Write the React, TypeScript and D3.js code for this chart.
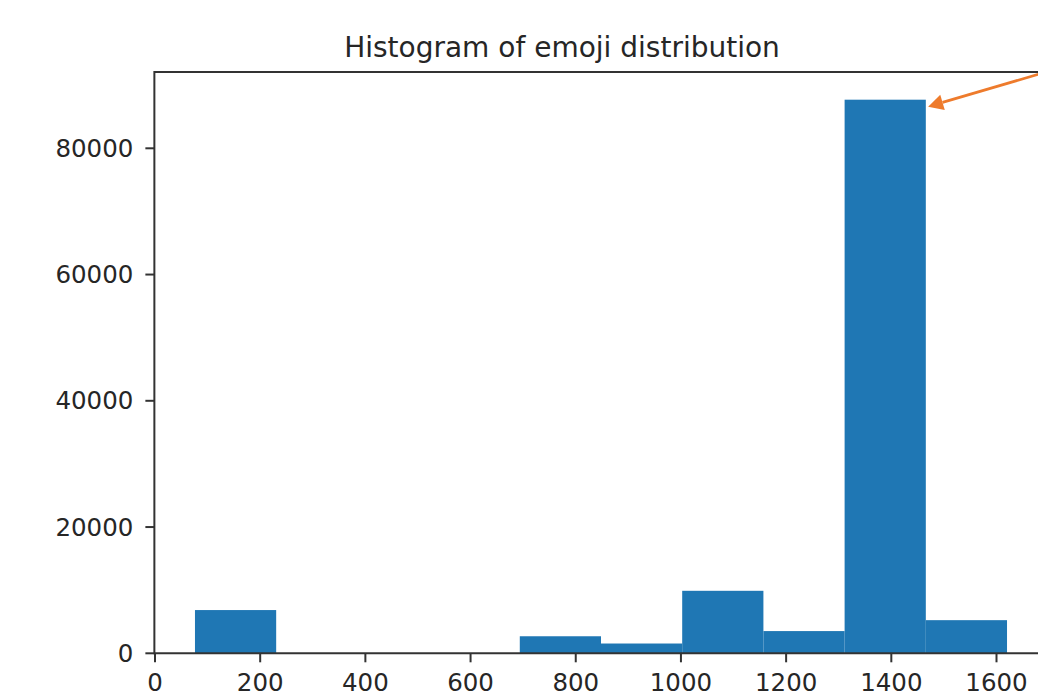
import React from "react";
import * as d3 from "d3";

// histogram bins
const binEdges = [76, 230.4, 384.8, 539.2, 693.6, 848, 1002.4, 1156.8, 1311.2, 1465.6, 1620];
const counts = [6850, 0, 0, 0, 2700, 1550, 9900, 3520, 87700, 5250];
const xTicks = [0, 200, 400, 600, 800, 1000, 1200, 1400, 1600];
const yTicks = [0, 20000, 40000, 60000, 80000];
const title = "Histogram of emoji distribution";
// annotation arrow: [x, y] in data units (tail starts off the cropped edge)
const arrowTip = [1470, 86600];
const arrowTail = [1797, 94600];

const font = "'DejaVu Sans', sans-serif";
const textColor = "#262626";

const Arrow = ({ x1, y1, x2, y2, color }) => {
  const ang = Math.atan2(y2 - y1, x2 - x1);
  const len = 15;
  const half = 8;
  const bx = x2 - len * Math.cos(ang);
  const by = y2 - len * Math.sin(ang);
  const px = -Math.sin(ang) * half;
  const py = Math.cos(ang) * half;
  return (
    <g>
      <line x1={x1} y1={y1} x2={bx} y2={by} stroke={color} strokeWidth="2.8"></line>
      <polygon points={`${x2},${y2} ${bx + px},${by + py} ${bx - px},${by - py}`} fill={color}></polygon>
    </g>
  );
};

const App = () => {
  const width = 1038;
  const height = 700;

  const x = d3.scaleLinear().domain([0, 1600]).range([155, 996.5]);
  const y = d3.scaleLinear().domain([0, 80000]).range([653.3, 148.3]);

  const xLo = -1.2;
  const xHi = 1697;
  const yHi = d3.max(counts) * 1.05;

  const left = x(xLo);
  const right = x(xHi);
  const top = y(yHi);
  const bottom = y(0);

  return (
    <svg width={width} height={height} style={{ position: "absolute", left: 0, top: 0, background: "white" }}>
      <text x={562} y={57} fontFamily={font} fontSize="28" fill={textColor} textAnchor="middle">
        {title}
      </text>

      {counts.map((c, i) =>
        c > 0 ? (
          <rect
            key={i}
            x={x(binEdges[i])}
            y={y(c)}
            width={x(binEdges[i + 1]) - x(binEdges[i])}
            height={bottom - y(c)}
            fill="#1f77b4"
          ></rect>
        ) : null
      )}

      {/* spines */}
      <line x1={left} x2={right} y1={top} y2={top} stroke="#333" strokeWidth="2"></line>
      <line x1={left} x2={right} y1={bottom} y2={bottom} stroke="#333" strokeWidth="2"></line>
      <line x1={left} x2={left} y1={top - 1} y2={bottom + 1} stroke="#333" strokeWidth="2"></line>

      {xTicks.map((t, i) => (
        <g key={i} transform={`translate(${x(t)}, ${bottom})`}>
          <line y2="9" stroke="#333" strokeWidth="2"></line>
          <text y="38" textAnchor="middle" fontFamily={font} fontSize="24.5" fill={textColor}>
            {t}
          </text>
        </g>
      ))}

      {yTicks.map((t, i) => (
        <g key={i} transform={`translate(${left}, ${y(t)})`}>
          <line x2="-9" stroke="#333" strokeWidth="2"></line>
          <text x="-21" dy="0.35em" textAnchor="end" fontFamily={font} fontSize="24.5" fill={textColor}>
            {t}
          </text>
        </g>
      ))}

      <Arrow
        x1={x(arrowTail[0])}
        y1={y(arrowTail[1])}
        x2={x(arrowTip[0])}
        y2={y(arrowTip[1])}
        color="#ee7b2c"
      />
    </svg>
  );
};

export default App;
